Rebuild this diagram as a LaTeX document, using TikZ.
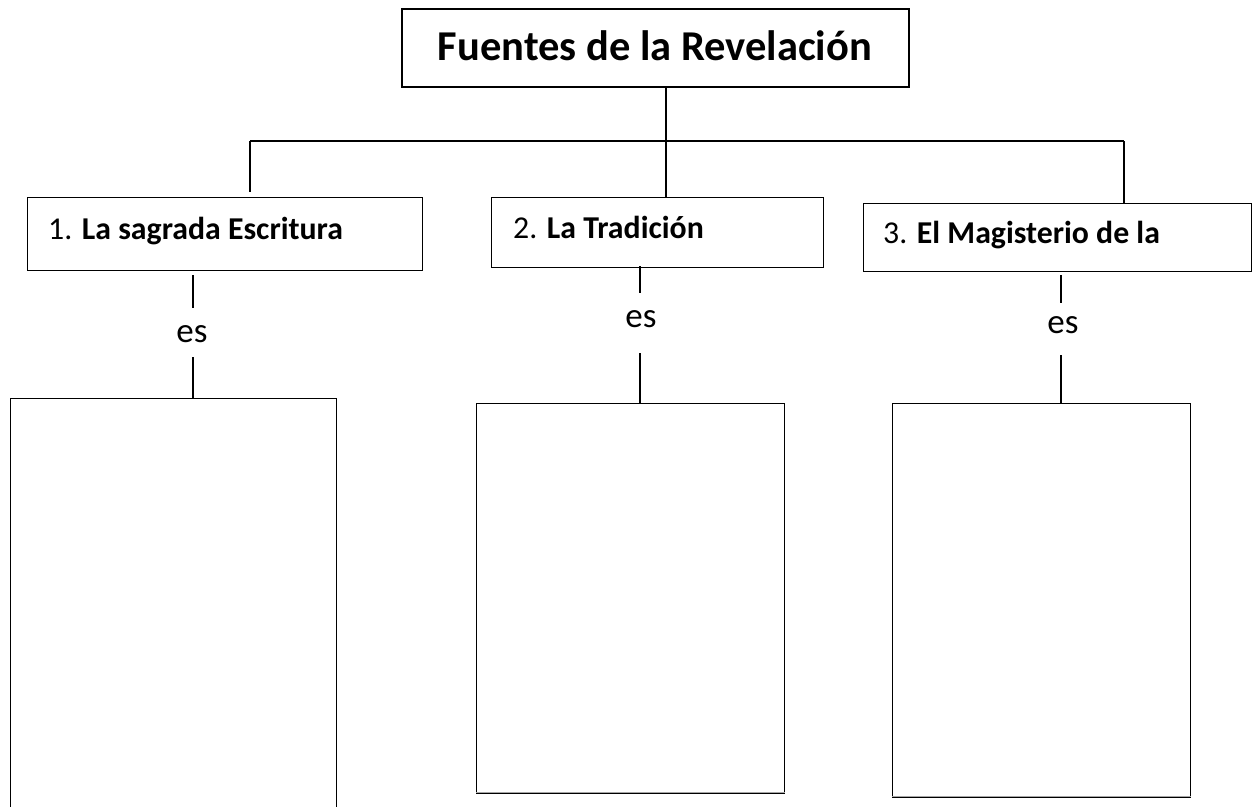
\documentclass[tikz,border=0pt]{standalone}
\usepackage{fontspec}
\setmainfont{Carlito}
\tikzset{
  box/.style={draw=black, line width=1.3pt, inner sep=0pt, anchor=north west},
  titlebox/.style={draw=black, line width=2pt, inner sep=0pt, anchor=north west},
  conn/.style={draw=black, line width=1.4pt},
  shade/.style={draw=black!35, line width=1.2pt},
  boxtext/.style={anchor=base west, inner sep=0pt, font=\fontsize{31.8}{36}\selectfont},
  estext/.style={anchor=base, inner sep=0pt, font=\fontsize{35}{40}\selectfont},
}
\begin{document}
\begin{tikzpicture}[x=1pt,y=-1pt]
\useasboundingbox (0,0) rectangle (1257,806);
% title
\node[titlebox, minimum width=507pt, minimum height=78pt] (title) at (401,8) {};
\node[anchor=base, inner sep=0pt, font=\fontsize{42.5}{50}\selectfont\bfseries] (tt) at (655,60) {Fuentes de la Revelación};
% level boxes
\node[box, minimum width=395pt, minimum height=73pt] (b1) at (27,197) {};
\node[boxtext] (t1) at (48,239) {1. \textbf{La sagrada Escritura}};
\node[box, minimum width=332pt, minimum height=70pt] (b2) at (491,197) {};
\node[boxtext] (t2) at (513,238) {2. \textbf{La Tradición}};
\node[box, minimum width=388pt, minimum height=68pt] (b3) at (863,203) {};
\node[boxtext] (t3) at (883,243) {3. \textbf{El Magisterio de la}};
% tree connectors
\coordinate (j) at (666,141);
\coordinate (jl) at (250,141);
\coordinate (jr) at (1124,141);
\draw[conn] (title.south -| j) -- (b2.north -| j);
\draw[conn] (jl) -- (jr);
\draw[conn] (jl) -- ([yshift=5pt]b1.north -| jl);
\draw[conn] (jr) -- (b3.north -| jr);
% lower boxes
\node[box, minimum width=326pt, minimum height=420pt] (c1) at (10,398) {};
\node[box, minimum width=308pt, minimum height=390pt] (c2) at (476,403) {};
\node[box, minimum width=298pt, minimum height=394pt] (c3) at (892,403) {};
\draw[shade] ([yshift=2pt]c2.south west) -- ([yshift=2pt]c2.south east);
\draw[shade] ([yshift=2pt]c3.south west) -- ([yshift=2pt]c3.south east);
% es labels
\node[estext] (e1) at (192,342) {es};
\node[estext] (e2) at (641,327) {es};
\node[estext] (e3) at (1063,333) {es};
% es connectors
\coordinate (a1) at (193,275); \coordinate (m1) at (193,308); \coordinate (n1) at (193,357);
\draw[conn] (a1) -- (m1);
\draw[conn] (n1) -- (c1.north -| n1);
\coordinate (a2) at (640,266); \coordinate (m2) at (640,293); \coordinate (n2) at (640,353);
\draw[conn] (a2) -- (m2);
\draw[conn] (n2) -- (c2.north -| n2);
\coordinate (a3) at (1061,275); \coordinate (m3) at (1061,303); \coordinate (n3) at (1061,355);
\draw[conn] (a3) -- (m3);
\draw[conn] (n3) -- (c3.north -| n3);
\end{tikzpicture}
\end{document}
